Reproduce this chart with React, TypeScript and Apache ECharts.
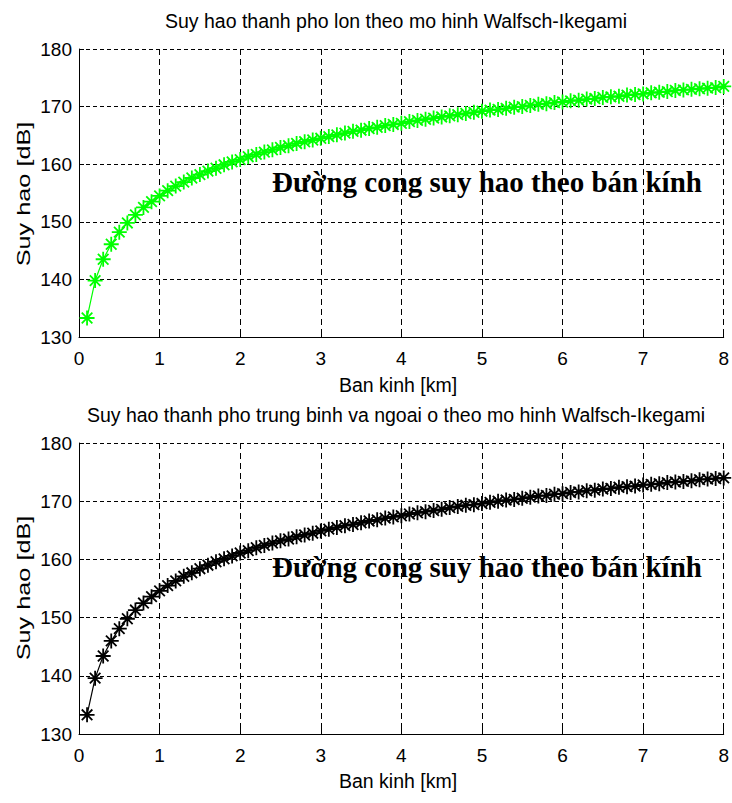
import React, { useEffect, useRef } from "react";
import * as echarts from "echarts";

// Cell radius in km (sample points of both curves)
const RADIUS_KM = [
  0.1, 0.2, 0.3, 0.4, 0.5, 0.6, 0.7, 0.8, 0.9, 1.0,
  1.1, 1.2, 1.3, 1.4, 1.5, 1.6, 1.7, 1.8, 1.9, 2.0,
  2.1, 2.2, 2.3, 2.4, 2.5, 2.6, 2.7, 2.8, 2.9, 3.0,
  3.1, 3.2, 3.3, 3.4, 3.5, 3.6, 3.7, 3.8, 3.9, 4.0,
  4.1, 4.2, 4.3, 4.4, 4.5, 4.6, 4.7, 4.8, 4.9, 5.0,
  5.1, 5.2, 5.3, 5.4, 5.5, 5.6, 5.7, 5.8, 5.9, 6.0,
  6.1, 6.2, 6.3, 6.4, 6.5, 6.6, 6.7, 6.8, 6.9, 7.0,
  7.1, 7.2, 7.3, 7.4, 7.5, 7.6, 7.7, 7.8, 7.9, 8.0,
];

// Path loss [dB], large city (Walfisch-Ikegami)
const LOSS_LARGE_CITY = [
  133.3, 139.8, 143.5, 146.1, 148.2, 149.8, 151.2, 152.5, 153.5, 154.5,
  155.4, 156.2, 156.9, 157.6, 158.2, 158.8, 159.3, 159.9, 160.4, 160.8,
  161.3, 161.7, 162.1, 162.5, 162.9, 163.2, 163.6, 163.9, 164.2, 164.5,
  164.8, 165.1, 165.4, 165.7, 165.9, 166.2, 166.4, 166.7, 166.9, 167.1,
  167.4, 167.6, 167.8, 168.0, 168.2, 168.4, 168.6, 168.8, 169.0, 169.2,
  169.4, 169.5, 169.7, 169.9, 170.0, 170.2, 170.4, 170.5, 170.7, 170.8,
  171.0, 171.1, 171.3, 171.4, 171.6, 171.7, 171.8, 172.0, 172.1, 172.2,
  172.4, 172.5, 172.6, 172.8, 172.9, 173.0, 173.1, 173.2, 173.3, 173.5,
];

// Path loss [dB], medium city and suburbs (Walfisch-Ikegami)
const LOSS_MEDIUM_CITY = [
  133.3, 139.6, 143.4, 146.0, 148.1, 149.8, 151.3, 152.5, 153.6, 154.6,
  155.5, 156.3, 157.1, 157.7, 158.4, 159.0, 159.6, 160.1, 160.6, 161.1,
  161.5, 162.0, 162.4, 162.8, 163.2, 163.5, 163.9, 164.2, 164.5, 164.9,
  165.2, 165.5, 165.8, 166.0, 166.3, 166.6, 166.8, 167.1, 167.3, 167.5,
  167.8, 168.0, 168.2, 168.4, 168.6, 168.9, 169.1, 169.3, 169.4, 169.6,
  169.8, 170.0, 170.2, 170.3, 170.5, 170.7, 170.9, 171.0, 171.2, 171.3,
  171.5, 171.6, 171.8, 171.9, 172.1, 172.2, 172.4, 172.5, 172.6, 172.8,
  172.9, 173.0, 173.2, 173.3, 173.4, 173.5, 173.7, 173.8, 173.9, 174.0,
];

const TITLES = [
  "Suy hao thanh pho lon theo mo hinh Walfsch-Ikegami",
  "Suy hao thanh pho trung binh va ngoai o theo mo hinh Walfsch-Ikegami",
];
const X_NAME = "Ban kinh [km]";
const Y_NAME = "Suy hao [dB]";
const NOTE = "Đường cong suy hao theo bán kính";
const COLORS = ["#00ff00", "#000000"];

// MATLAB-style '*' marker built from four thin bars
const STAR =
  "path://M-1.2,-10 L1.2,-10 L1.2,10 L-1.2,10 Z " +
  "M-10,-1.2 L10,-1.2 L10,1.2 L-10,1.2 Z " +
  "M-6.2,-7.9 L7.9,6.2 L6.2,7.9 L-7.9,-6.2 Z " +
  "M6.2,-7.9 L7.9,-6.2 L-6.2,7.9 L-7.9,6.2 Z";

const SANS = '"Liberation Sans", Arial, sans-serif';
const SERIF = '"Liberation Serif", "Times New Roman", serif';

const GRIDS = [
  { left: 79, top: 49, width: 647, height: 288 },
  { left: 79, top: 443, width: 647, height: 291 },
];

function xAxisFor(i: number) {
  return {
    gridIndex: i,
    type: "value",
    min: 0,
    max: 8,
    interval: 1,
    axisLine: { show: true, onZero: false, lineStyle: { color: "#000", width: 1 } },
    axisTick: { show: true, inside: true, length: 5, lineStyle: { color: "#000" } },
    axisLabel: { color: "#000", fontSize: 19, fontFamily: SANS, margin: 12 },
    splitLine: { show: true, lineStyle: { color: "#000", width: 1, type: [6, 4] } },
  };
}

function yAxisFor(i: number) {
  return {
    gridIndex: i,
    type: "value",
    min: 130,
    max: 180,
    interval: 10,
    axisLine: { show: true, onZero: false, lineStyle: { color: "#000", width: 1 } },
    axisTick: { show: true, inside: true, length: 5, lineStyle: { color: "#000" } },
    axisLabel: { color: "#000", fontSize: 19, fontFamily: SANS, margin: 7 },
    splitLine: { show: true, lineStyle: { color: "#000", width: 1, type: [4, 3] } },
  };
}

function seriesFor(i: number, values: number[]) {
  return {
    type: "line",
    xAxisIndex: i,
    yAxisIndex: i,
    data: RADIUS_KM.map((r, k) => [r, values[k]]),
    symbol: STAR,
    symbolSize: 15,
    showAllSymbol: true,
    itemStyle: { color: COLORS[i] },
    lineStyle: { color: COLORS[i], width: 1.2 },
    z: 3,
  };
}

function textEl(text: string, x: number, y: number, font: string, align: string, extra: any = {}) {
  return {
    type: "text",
    x,
    y,
    z: 10,
    ...extra,
    style: {
      text,
      font,
      fill: "#000",
      align,
      verticalAlign: "middle",
      textAlign: align,
      textVerticalAlign: "middle",
    },
  };
}

export default function App() {
  const ref = useRef<HTMLDivElement>(null);

  useEffect(() => {
    if (!ref.current) return;
    const chart = echarts.init(ref.current, null, { renderer: "svg" });
    const offsets = [0, 394];
    const graphic: any[] = [];
    [0, 1].forEach((i) => {
      const dy = offsets[i];
      graphic.push(textEl(TITLES[i], 396, 21 + dy, `19.5px ${SANS}`, "center"));
      graphic.push(textEl(X_NAME, 398, 385 + dy + (i === 1 ? 2 : 0), `19.5px ${SANS}`, "center"));
      graphic.push(
        textEl(Y_NAME, 24, 194 + dy, `19px ${SANS}`, "center", {
          rotation: Math.PI / 2,
          scaleX: 1.33,
        })
      );
      graphic.push(textEl(NOTE, 272, 182 + dy - (i === 1 ? 9 : 0), `bold 29px ${SERIF}`, "left"));
    });

    chart.setOption({
      animation: false,
      backgroundColor: "#fff",
      grid: GRIDS,
      xAxis: [xAxisFor(0), xAxisFor(1)],
      yAxis: [yAxisFor(0), yAxisFor(1)],
      series: [seriesFor(0, LOSS_LARGE_CITY), seriesFor(1, LOSS_MEDIUM_CITY)],
      graphic,
    });
    return () => chart.dispose();
  }, []);

  return (
    <div
      ref={ref}
      style={{ position: "fixed", left: 0, top: 0, width: 732, height: 803, background: "#fff" }}
    />
  );
}
